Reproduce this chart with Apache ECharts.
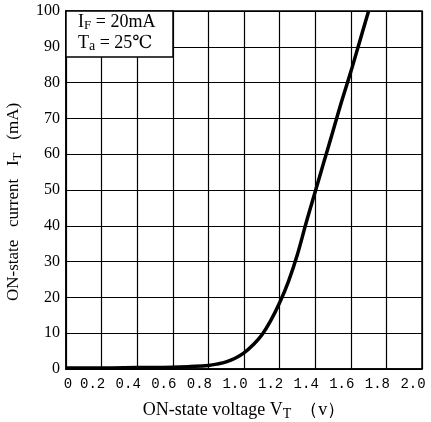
<!DOCTYPE html>
<html><head><meta charset="utf-8">
<script src="https://cdn.jsdelivr.net/npm/echarts@6/dist/echarts.min.js"></script>
<style>html,body{margin:0;padding:0;background:#fff}#c{width:431px;height:422px}</style>
</head><body><div id="c"></div>
<script>
const voltage = [0, 0.2, 0.4, 0.6, 0.7, 0.8, 0.85, 0.9, 0.95, 1.0, 1.05, 1.1, 1.15, 1.2, 1.25, 1.3, 1.35, 1.4, 1.45, 1.5, 1.55, 1.6, 1.65, 1.7];
const current = [0.3, 0.3, 0.4, 0.5, 0.7, 1.0, 1.4, 2.0, 3.0, 4.5, 6.7, 9.5, 13.5, 18.5, 24.5, 32, 41, 49.5, 58, 66.5, 75, 83, 91.5, 100];
const xTicks = ['0', '0.2', '0.4', '0.6', '0.8', '1.0', '1.2', '1.4', '1.6', '1.8', '2.0'];
const yTicks = [0, 10, 20, 30, 40, 50, 60, 70, 80, 90, 100];

const serif = '"Liberation Serif", "DejaVu Serif", serif';
const mono = '"Liberation Mono", "DejaVu Sans Mono", monospace';
const chart = echarts.init(document.getElementById('c'));
chart.setOption({
  animation: false,
  grid: { left: 66, right: 9, top: 11, bottom: 53, show: true, borderColor: '#000', borderWidth: 1.5,
          containLabel: false, outerBoundsMode: 'none' },
  xAxis: {
    type: 'value', min: 0, max: 2.0, interval: 0.2,
    axisLine: { lineStyle: { color: '#000', width: 1.5 } },
    axisTick: { show: false },
    splitLine: { lineStyle: { color: '#000', width: 1.2 } },
    axisLabel: {
      color: '#000', fontFamily: mono, fontSize: 14, margin: 8,
      formatter: function (v) { const i = Math.round(v / 0.2); return i === 0 ? '{z|' + xTicks[i] + '}' : '{n|' + xTicks[i] + '}'; },
      rich: { z: { fontFamily: mono, fontSize: 14, color: '#000', padding: [0, 0, 0, 4] },
              n: { fontFamily: mono, fontSize: 14, color: '#000', padding: [0, 18, 0, 0] } }
    },
    name: 'ON-state voltage V{s|T}  （v）', nameLocation: 'middle', nameGap: 31,
    nameTextStyle: { color: '#000', fontFamily: serif, fontSize: 18,
      rich: { s: { fontFamily: serif, fontSize: 14, color: '#000', padding: [7, 0, 0, 0] } } }
  },
  yAxis: {
    type: 'value', min: 0, max: 100, interval: 10,
    axisLine: { show: true, lineStyle: { color: '#000', width: 1.5 } },
    axisTick: { show: false },
    splitLine: { lineStyle: { color: '#000', width: 1.2 } },
    axisLabel: { color: '#000', fontFamily: serif, fontSize: 16, margin: 6,
      formatter: function (v) { return String(yTicks[Math.round(v / 10)]); } },
    name: 'ON-state   current   I{s|T}   (mA)', nameLocation: 'middle', nameGap: 42,
    nameTextStyle: { color: '#000', fontFamily: serif, fontSize: 17, padding: [0, 24, 0, 0],
      rich: { s: { fontFamily: serif, fontSize: 13, color: '#000', padding: [7, 0, 0, 0] } } }
  },
  graphic: [
    { type: 'rect', shape: { x: 66, y: 11, width: 107, height: 46 }, style: { fill: '#fff', stroke: '#000', lineWidth: 1.5 }, z: 100 },
    { type: 'text', x: 78, y: 13, z: 101, style: { text: 'I{s|F} = 20mA', fill: '#000', font: '18px ' + serif,
      rich: { s: { fontSize: 13, fontFamily: serif, fill: '#000', padding: [6, 0, 0, 0] } } } },
    { type: 'text', x: 78, y: 33, z: 101, style: { text: 'T{s|a} = 25℃', fill: '#000', font: '18px ' + serif,
      rich: { s: { fontSize: 14, fontFamily: serif, fill: '#000', padding: [6, 0, 0, 0] } } } }
  ],
  series: [{
    type: 'line', data: voltage.map((v, i) => [v, current[i]]), smooth: 0.4, symbol: 'none',
    lineStyle: { color: '#000', width: 3.5 }, clip: true
  }]
});
</script></body></html>
